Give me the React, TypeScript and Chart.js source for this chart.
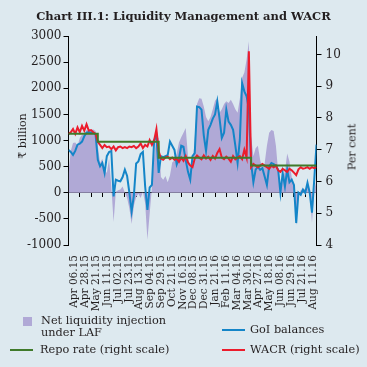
import React, { useEffect, useRef } from 'react';
import { Chart, registerables } from 'chart.js';

Chart.register(...registerables);

// ---------- DATA ----------
const tickLabels = [
  'Apr 06.15', 'Apr 28.15', 'May 21.15', 'Jun 11.15', 'Jul 02.15', 'Jul 23.15',
  'Aug 13.15', 'Sep 04.15', 'Sep 29.15', 'Oct 21.15', 'Nov 16.15', 'Dec 08.15',
  'Dec 31.15', 'Jan 21.16', 'Feb 11.16', 'Mar 04.16', 'Mar 30.16', 'Apr 27.16',
  'May 18.16', 'Jun 08.16', 'Jun 29.16', 'Jul 21.16', 'Aug 11.16',
];

// observations between consecutive tick marks
const POINTS_PER_LABEL = 5;

// Net liquidity injection under LAF (₹ billion)
const liquidity = [
  380, 800, 950, 960, 900, 1050, 1110, 1120, 1200, 1190,
  1200, 1210, 1180, 900, 570, 650, 450, 380, 650, 120,
  -560, 20, 50, 60, 120, 0, -100, -300, -600, -250,
  -80, -20, -100, 20, -200, -900, -400, 100, 700, 1080,
  1050, 300, 250, 320, 200, 330, 580, 620, 750, 960,
  1060, 1150, 1240, 700, 450, 500, 1050, 1700, 1810, 1800,
  1650, 1450, 1370, 1450, 1600, 1760, 1810, 1530, 1600, 1700,
  1750, 1720, 1780, 1700, 1600, 1530, 1800, 2200, 2300, 2550,
  2900, 1080, 700, 850, 900, 630, 450, 560, 900, 1150,
  1200, 1180, 900, 400, 80, 300, 400, 750, 600, 300,
  100, -620, -50, 50, 80, 60, 150, 0, -580, 50,
  250,
];

// GoI balances (₹ billion)
const goiBalances = [
  820, 780, 725, 800, 920, 940, 980, 1080, 1150, 1160,
  1150, 1150, 1120, 630, 505, 570, 380, 700, 780, 800,
  -70, 250, 230, 220, 300, 440, 320, 0, -360, -50,
  560, 600, 740, 780, 120, -330, 100, 150, 1010, 1090,
  380, 700, 680, 700, 720, 980, 900, 820, 540, 650,
  900, 880, 620, 400, 250, 700, 760, 1650, 1640, 1590,
  1100, 800, 1205, 1300, 1420, 1500, 1750, 1420, 1050, 1150,
  1590, 1360, 1300, 1205, 900, 570, 1015, 2100, 1940, 1845,
  1600, 570, 200, 440, 500, 440, 470, 310, 150, 505,
  570, 550, 520, 440, 0, 380, 120, 440, 200, 250,
  150, -580, 0, -40, 60, 0, 190, 0, -380, 250,
  920,
];

// WACR (per cent, right scale)
const wacr = [
  7.5, 7.55, 7.65, 7.5, 7.7, 7.55, 7.75, 7.6, 7.8, 7.6,
  7.62, 7.55, 7.5, 7.25, 7.15, 7.05, 7.15, 7.08, 7.1, 7.02,
  7.1, 6.98, 7.08, 7.1, 7.05, 7.08, 7.05, 7.1, 7.08, 7.12,
  7.05, 7.1, 7.2, 7.05, 7.15, 7.1, 7.3, 7.15, 7.3, 7.65,
  6.95, 6.72, 6.68, 6.75, 6.78, 6.7, 6.75, 6.68, 6.72, 6.62,
  6.75, 6.65, 6.8, 6.6, 6.5, 6.45, 6.72, 6.82, 6.75, 6.7,
  6.82, 6.72, 6.78, 6.68, 6.8, 6.72, 6.9, 7.02, 6.75, 6.7,
  6.78, 6.72, 6.62, 6.8, 6.7, 6.75, 6.8, 6.7, 7.0, 6.75,
  10.1, 6.45, 6.55, 6.5, 6.45, 6.5, 6.55, 6.5, 6.45, 6.4,
  6.5, 6.45, 6.5, 6.35, 6.3, 6.4, 6.35, 6.3, 6.4, 6.35,
  6.28, 6.2, 6.38, 6.45, 6.4, 6.42, 6.45, 6.4, 6.45, 6.42,
  6.45,
];

// Repo rate (per cent, right scale)
const repoRate = [
  7.5, 7.5, 7.5, 7.5, 7.5, 7.5, 7.5, 7.5, 7.5, 7.5,
  7.5, 7.5, 7.5, 7.25, 7.25, 7.25, 7.25, 7.25, 7.25, 7.25,
  7.25, 7.25, 7.25, 7.25, 7.25, 7.25, 7.25, 7.25, 7.25, 7.25,
  7.25, 7.25, 7.25, 7.25, 7.25, 7.25, 7.25, 7.25, 7.25, 7.25,
  6.75, 6.75, 6.75, 6.75, 6.75, 6.75, 6.75, 6.75, 6.75, 6.75,
  6.75, 6.75, 6.75, 6.75, 6.75, 6.75, 6.75, 6.75, 6.75, 6.75,
  6.75, 6.75, 6.75, 6.75, 6.75, 6.75, 6.75, 6.75, 6.75, 6.75,
  6.75, 6.75, 6.75, 6.75, 6.75, 6.75, 6.75, 6.75, 6.75, 6.75,
  6.75, 6.5, 6.5, 6.5, 6.5, 6.5, 6.5, 6.5, 6.5, 6.5,
  6.5, 6.5, 6.5, 6.5, 6.5, 6.5, 6.5, 6.5, 6.5, 6.5,
  6.5, 6.5, 6.5, 6.5, 6.5, 6.5, 6.5, 6.5, 6.5, 6.5,
  6.5,
];

const leftTicks = { min: -1000, max: 3000, step: 500 };
const rightTickValues = [4, 5, 6, 7, 8, 9, 10];
const RIGHT_MIN = 4;
const RIGHT_MAX = 10.58;

// ---------- STYLE / LAYOUT ----------
const LABEL_FIRST = 0.55; // label placement along the axis, in tick-mark units
const LABEL_STEP = 0.96;
const BG = '#dde9ef';
const TEXT = '#231f20';
const PURPLE = 'rgb(176,169,214)';
const BLUE = '#1485c8';
const RED = '#ec1c2c';
const GREEN = '#3f7a2a';
const SERIF = '"DejaVu Serif", serif';

const toXY = (arr: number[]) => arr.map((y, i) => ({ x: i / POINTS_PER_LABEL, y }));

export default function App() {
  const ref = useRef<HTMLCanvasElement>(null);

  useEffect(() => {
    document.body.style.margin = '0';
    document.body.style.background = BG;
    const xMax = tickLabels.length - 1;
    const chart = new Chart(ref.current as HTMLCanvasElement, {
      type: 'line',
      data: {
        datasets: [
          {
            label: 'Repo rate (right scale)',
            data: toXY(repoRate),
            yAxisID: 'y1',
            borderColor: GREEN,
            borderWidth: 2,
            stepped: 'before',
            pointRadius: 0,
            fill: false,
            order: 0,
          },
          {
            label: 'WACR (right scale)',
            data: toXY(wacr),
            yAxisID: 'y1',
            borderColor: RED,
            borderWidth: 2,
            pointRadius: 0,
            fill: false,
            order: 1,
          },
          {
            label: 'GoI balances',
            data: toXY(goiBalances),
            yAxisID: 'y',
            borderColor: BLUE,
            borderWidth: 2,
            pointRadius: 0,
            fill: false,
            order: 2,
          },
          {
            label: 'Net liquidity injection under LAF',
            data: toXY(liquidity),
            yAxisID: 'y',
            borderWidth: 0,
            borderColor: 'rgba(0,0,0,0)',
            backgroundColor: PURPLE,
            fill: 'origin',
            pointRadius: 0,
            order: 3,
          },
        ] as any,
      },
      options: {
        animation: false,
        responsive: false,
        events: [],
        layout: { padding: { top: 36, left: 0, right: 0, bottom: 0 } },
        plugins: { legend: { display: false }, tooltip: { enabled: false }, title: { display: false } },
        scales: {
          x: {
            type: 'linear',
            position: 'bottom',
            min: 0,
            max: xMax,
            afterBuildTicks: (s: any) => {
              s.ticks = tickLabels.map((_, k) => ({ value: LABEL_FIRST + k * LABEL_STEP }));
            },
            afterFit: (s: any) => { s.height = 122; },
            ticks: {
              autoSkip: false,
              maxRotation: 90,
              minRotation: 90,
              padding: 2,
              color: TEXT,
              font: { family: SERIF, size: 10.5 },
              callback: (_v: any, i: number) => tickLabels[i],
            },
            grid: { display: false },
            border: { display: false },
          },
          x0: {
            type: 'linear',
            axis: 'x',
            position: { y: 0 },
            min: 0,
            max: xMax,
            afterBuildTicks: (s: any) => {
              s.ticks = tickLabels.map((_, i) => ({ value: i }));
            },
            ticks: { display: false },
            grid: { drawOnChartArea: false, drawTicks: true, tickLength: 4, color: '#000', lineWidth: 1 },
            border: { color: '#000', width: 1 },
          },
          y: {
            position: 'left',
            min: leftTicks.min,
            max: leftTicks.max,
            afterFit: (s: any) => { s.width = 68.5; },
            ticks: {
              stepSize: leftTicks.step,
              padding: 2,
              color: TEXT,
              font: { family: SERIF, size: 12 },
              callback: (v: any) => String(v),
            },
            grid: { drawOnChartArea: false, tickLength: 5, color: '#000', lineWidth: 1 },
            border: { color: '#000', width: 1 },
          },
          y1: {
            position: 'right',
            min: RIGHT_MIN,
            max: RIGHT_MAX,
            afterBuildTicks: (s: any) => { s.ticks = rightTickValues.map((v) => ({ value: v })); },
            afterFit: (s: any) => { s.width = 50.5; },
            ticks: { padding: 4, color: TEXT, font: { family: SERIF, size: 12 }, callback: (v: any) => String(v) },
            grid: { drawOnChartArea: false, tickLength: 5, color: '#000', lineWidth: 1 },
            border: { color: '#000', width: 1 },
          },
        } as any,
      },
    });
    return () => chart.destroy();
  }, []);

  const text: React.CSSProperties = {
    position: 'absolute',
    fontFamily: SERIF,
    color: TEXT,
    whiteSpace: 'nowrap',
    lineHeight: 1,
  };
  const rot = (cx: number, cy: number): React.CSSProperties => ({
    ...text,
    left: cx,
    top: cy,
    fontSize: 11,
    transform: 'translate(-50%,-50%) rotate(-90deg)',
  });
  const line = (x: number, y: number, color: string): React.CSSProperties => ({
    position: 'absolute', left: x, top: y - 1.25, width: 23, height: 2.5, background: color,
  });

  return (
    <div style={{ position: 'relative', width: 367, height: 367, background: BG, overflow: 'hidden' }}>
      <canvas ref={ref} width={367} height={367} style={{ display: 'block', width: 367, height: 367 }} />
      <div style={{ ...text, left: 0, width: 367, top: 11, textAlign: 'center', fontWeight: 'bold', fontSize: 11.5 }}>
        Chart III.1: Liquidity Management and WACR
      </div>
      <div style={rot(22, 136)}>₹ billion</div>
      <div style={rot(352, 147)}>Per cent</div>

      <div style={{ position: 'absolute', left: 23, top: 317, width: 9, height: 9, background: PURPLE }} />
      <div style={{ ...text, left: 41, top: 315, fontSize: 11.3, lineHeight: '12px' }}>
        Net liquidity injection<br />under LAF
      </div>
      <div style={line(222, 330, BLUE)} />
      <div style={{ ...text, left: 250, top: 324, fontSize: 11.3 }}>GoI balances</div>
      <div style={line(10, 350, GREEN)} />
      <div style={{ ...text, left: 40, top: 344, fontSize: 11.3 }}>Repo rate (right scale)</div>
      <div style={line(222, 350, RED)} />
      <div style={{ ...text, left: 250, top: 344, fontSize: 11.3 }}>WACR (right scale)</div>
    </div>
  );
}
